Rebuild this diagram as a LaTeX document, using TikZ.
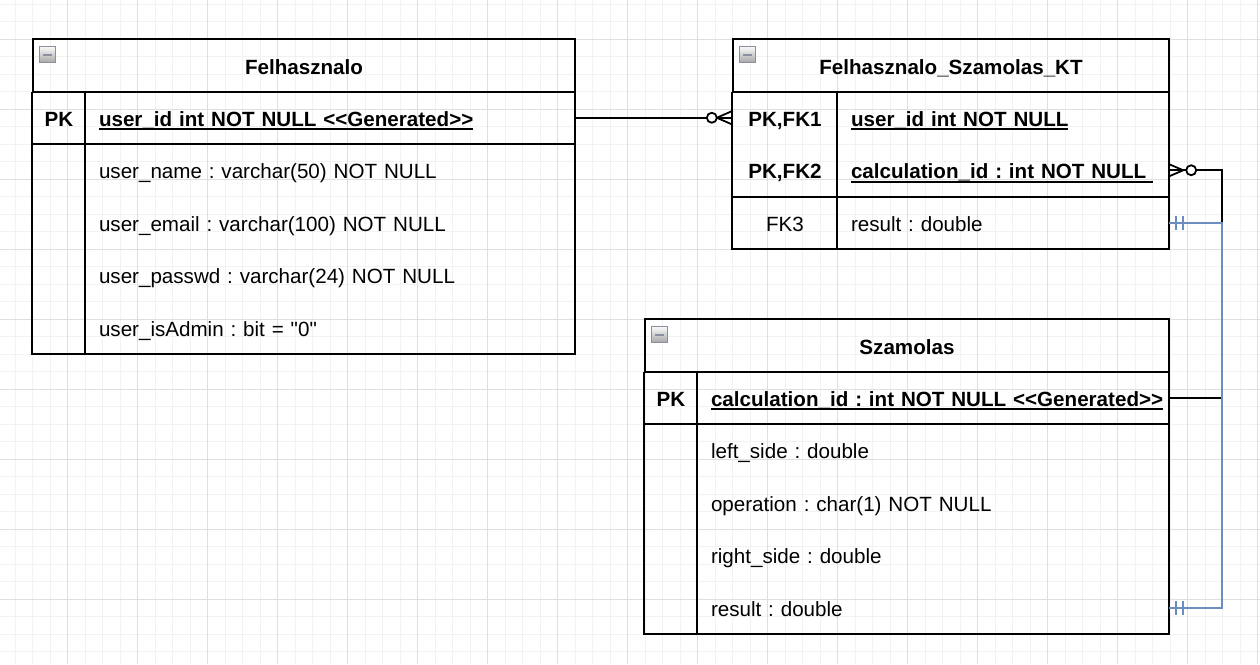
\documentclass[tikz,border=0pt]{standalone}
\usepackage{fontspec}
\setmainfont{Liberation Sans}[Ligatures=TeXOff]
\definecolor{erblue}{HTML}{6C8EBF}
\definecolor{iconedge}{HTML}{8890A0}
\newcommand\keyul[1]{\setbox0\hbox{#1}\rlap{\rule[-4.3pt]{\wd0}{2pt}}\box0}
\frenchspacing
\tikzset{
  border/.style={line width=1.8pt},
  tabletitle/.style={draw, border, minimum height=52.5pt, inner sep=0pt, text height=17.5pt, text depth=0pt, font=\fontsize{20.6}{25}\selectfont\bfseries},
  keycell/.style={minimum height=52.5pt, inner sep=0pt, text height=16.5pt, text depth=0pt, font=\fontsize{20.6}{25}\selectfont},
  fieldcell/.style={minimum height=52.5pt, inner xsep=14pt, inner ysep=0pt, text width=#1, align=left, text height=16.5pt, text depth=0pt, font=\fontsize{20.6}{25}\selectfont},
  link/.style={line width=1.8pt},
  collapse/.style={draw=iconedge, line width=1.2pt, top color=gray!5, bottom color=gray!70, minimum size=16pt, inner sep=0pt, anchor=north west,
    path picture={\draw[line width=2.4pt] ([xshift=3.5pt]path picture bounding box.west) -- ([xshift=-3.5pt]path picture bounding box.east);}},
  gridminor/.style={gray!10, line width=1pt},
  gridmajor/.style={gray!25, line width=1pt},
}
\begin{document}
\begin{tikzpicture}[x=1pt, y=-1pt]

\useasboundingbox (0,0) rectangle (1260,664);
\fill[white] (0,0) rectangle (1260,664);

% Grid
\begin{scope}
\clip (0,0) rectangle (1260,664);
\foreach \i in {0,...,72} \draw[gridminor] ({-2.5+17.5*\i},0) -- ++(0,664);
\foreach \j in {0,...,37} \draw[gridminor] (0,{4+17.5*\j}) -- ++(1260,0);
\foreach \i in {0,...,18} \draw[gridmajor] ({-2.5+70*\i},0) -- ++(0,664);
\foreach \j in {1,...,9} \draw[gridmajor] (0,{-31+70*\j}) -- ++(1260,0);
\end{scope}

% Felhasznalo
\node[tabletitle, minimum width=542pt] (felh) at (304,65.25) {Felhasznalo};
\node[collapse] (felh-icon) at ([shift={(7,8)}]felh.north west) {};
\node[keycell, minimum width=52pt] (felh-pk-key) at (59,117.75) {\bfseries PK};
\node[fieldcell=462pt] (felh-pk) at (330,117.75) {\bfseries\keyul{user\_id int NOT NULL <\kern0pt<Generated>\kern0pt>}};
\node[fieldcell=462pt] (felh-1) at (330,170.25) {user\_name : varchar(50) NOT NULL};
\node[fieldcell=462pt] (felh-2) at (330,222.75) {user\_email : varchar(100) NOT NULL};
\node[fieldcell=462pt] (felh-3) at (330,275.25) {user\_passwd : varchar(24) NOT NULL};
\node[fieldcell=462pt] (felh-4) at (330,327.75) {user\_isAdmin : bit = "0"};
\draw[border] (felh.south west) rectangle (felh-4.south east);
\draw[border] (felh-pk-key.north east) -- (felh-pk-key.north east |- felh-4.south);
\draw[border] (felh-pk-key.south west) -- (felh-pk.south east);

% Felhasznalo_Szamolas_KT
\node[tabletitle, minimum width=436pt] (fsk) at (951,65.25) {Felhasznalo\_Szamolas\_KT};
\node[collapse] (fsk-icon) at ([shift={(7,8)}]fsk.north west) {};
\node[keycell, minimum width=104pt] (fsk-pk1-key) at (785,117.75) {\bfseries PK,FK1};
\node[keycell, minimum width=104pt] (fsk-pk2-key) at (785,170.25) {\bfseries PK,FK2};
\node[keycell, minimum width=104pt] (fsk-fk3-key) at (785,222.75) {FK3};
\node[fieldcell=304pt] (fsk-pk1) at (1003,117.75) {\bfseries\keyul{user\_id int NOT NULL}};
\node[fieldcell=304pt] (fsk-pk2) at (1003,170.25) {\bfseries\keyul{calculation\_id : int NOT NULL\ }};
\node[fieldcell=304pt] (fsk-fk3) at (1003,222.75) {result : double};
\draw[border] (fsk.south west) rectangle (fsk-fk3.south east);
\draw[border] (fsk-pk1-key.north east) -- (fsk-fk3-key.south east);
\draw[border] (fsk-pk2-key.south west) -- (fsk-pk2.south east);

% Szamolas
\node[tabletitle, minimum width=524pt] (szam) at (907,345.25) {Szamolas};
\node[collapse] (szam-icon) at ([shift={(7,8)}]szam.north west) {};
\node[keycell, minimum width=52pt] (szam-pk-key) at (671,397.75) {\bfseries PK};
\node[fieldcell=444pt] (szam-pk) at (933,397.75) {\bfseries\keyul{calculation\_id : int NOT NULL <\kern0pt<Generated>\kern0pt>}};
\node[fieldcell=444pt] (szam-1) at (933,450.25) {left\_side : double};
\node[fieldcell=444pt] (szam-2) at (933,502.75) {operation : char(1) NOT NULL};
\node[fieldcell=444pt] (szam-3) at (933,555.25) {right\_side : double};
\node[fieldcell=444pt] (szam-res) at (933,607.75) {result : double};
\draw[border] (szam.south west) rectangle (szam-res.south east);
\draw[border] (szam-pk-key.north east) -- (szam-pk-key.north east |- szam-res.south);
\draw[border] (szam-pk-key.south west) -- (szam-pk.south east);

% Kapcsolatok
\draw[link] (felh-pk.east) -- (fsk-pk1-key.west);
\draw[link] ([xshift=-16pt]fsk-pk1-key.west) -- ([yshift=7pt]fsk-pk1-key.west)
  ([xshift=-16pt]fsk-pk1-key.west) -- ([yshift=-7pt]fsk-pk1-key.west);
\draw[link, fill=white] ([xshift=-21pt]fsk-pk1-key.west) circle (5pt);

\draw[link] (fsk-pk2.east) -- ++(53,0) |- (szam-pk.east);
\draw[link] ([xshift=14pt]fsk-pk2.east) -- ([yshift=6pt]fsk-pk2.east)
  ([xshift=14pt]fsk-pk2.east) -- ([yshift=-6pt]fsk-pk2.east);
\draw[link, fill=white] ([xshift=22pt]fsk-pk2.east) circle (5pt);

\draw[link, erblue] (fsk-fk3.east) -- ++(53,0) |- (szam-res.east);
\draw[link, erblue] ([xshift=7pt,yshift=7pt]fsk-fk3.east) -- ([xshift=7pt,yshift=-7pt]fsk-fk3.east)
  ([xshift=13.5pt,yshift=7pt]fsk-fk3.east) -- ([xshift=13.5pt,yshift=-7pt]fsk-fk3.east);
\draw[link, erblue] ([xshift=7pt,yshift=7pt]szam-res.east) -- ([xshift=7pt,yshift=-7pt]szam-res.east)
  ([xshift=13.5pt,yshift=7pt]szam-res.east) -- ([xshift=13.5pt,yshift=-7pt]szam-res.east);

\end{tikzpicture}
\end{document}
